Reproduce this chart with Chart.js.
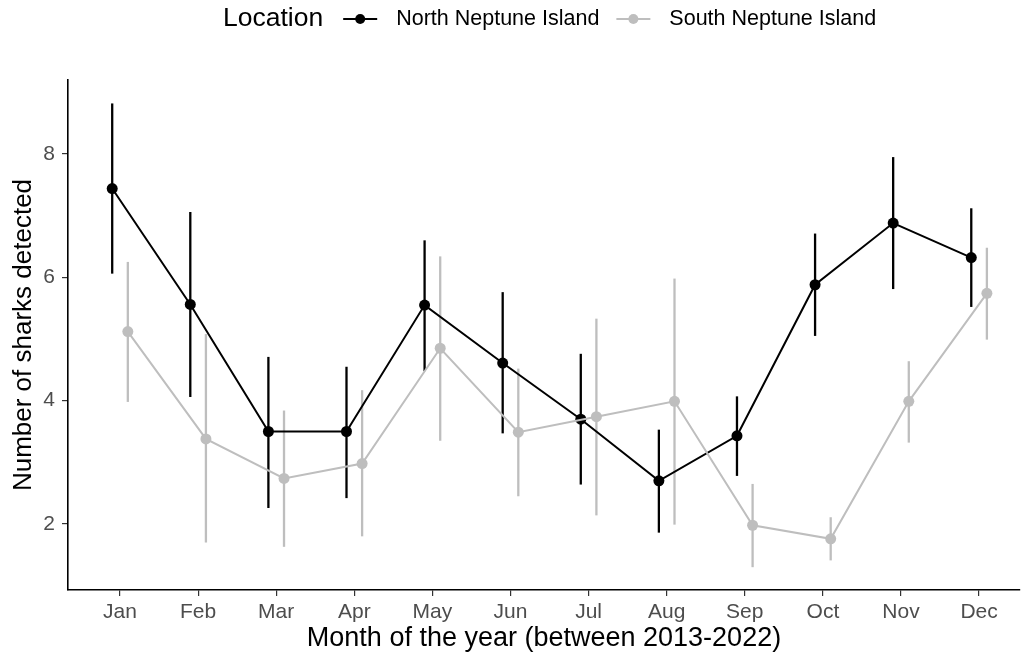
<!DOCTYPE html>
<html>
<head>
<meta charset="utf-8">
<script src="https://cdn.jsdelivr.net/npm/chart.js@4.4.0/dist/chart.umd.min.js"></script>
<style>
  html, body { margin: 0; padding: 0; background: #fff; }
  #wrap { width: 1021px; height: 657px; position: relative; }
</style>
</head>
<body>
<div id="wrap"><canvas id="grafico"></canvas></div>
<script>
// dados
var meses = ["Jan", "Feb", "Mar", "Apr", "May", "Jun", "Jul", "Aug", "Sep", "Oct", "Nov", "Dec"];
var yTicks = [2, 4, 6, 8];

var norteMedia = [7.44, 5.56, 3.50, 3.50, 5.55, 4.61, 3.70, 2.70, 3.43, 5.88, 6.88, 6.32];
var norteMin   = [6.06, 4.06, 2.26, 2.42, 4.48, 3.47, 2.64, 1.86, 2.78, 5.05, 5.81, 5.52];
var norteMax   = [8.82, 7.06, 4.71, 4.55, 6.60, 5.76, 4.76, 3.53, 4.07, 6.71, 7.95, 7.12];

var sulMedia = [5.12, 3.38, 2.74, 2.98, 4.85, 3.49, 3.74, 3.99, 1.98, 1.76, 3.99, 5.74];
var sulMin   = [3.98, 1.70, 1.63, 1.80, 3.35, 2.45, 2.14, 1.99, 1.30, 1.41, 3.32, 4.99];
var sulMax   = [6.25, 5.08, 3.84, 4.17, 6.34, 4.52, 5.33, 5.98, 2.65, 2.11, 4.64, 6.48];

var corNorte = "#000000";
var corSul = "#bebebe";
var dodge = 0.1;
var fonte = "'Liberation Sans', Arial, sans-serif";

function montarPontos(valores, desloc) {
    var pts = [];
    for (var i = 0; i < valores.length; i++) {
        pts.push({ x: i + 1 + desloc, y: valores[i] });
    }
    return pts;
}

// barras de erro desenhadas com as escalas do chart
var pluginErro = {
    id: 'barrasErro',
    beforeDatasetsDraw: function (chart) {
        var ctx = chart.ctx;
        var sx = chart.scales.x;
        var sy = chart.scales.y;
        var series = [
            { lo: sulMin, hi: sulMax, desloc: dodge, cor: corSul },
            { lo: norteMin, hi: norteMax, desloc: -dodge, cor: corNorte }
        ];
        ctx.save();
        ctx.lineWidth = 2.3;
        series.forEach(function (s) {
            ctx.strokeStyle = s.cor;
            for (var i = 0; i < s.lo.length; i++) {
                var px = sx.getPixelForValue(i + 1 + s.desloc);
                ctx.beginPath();
                ctx.moveTo(px, sy.getPixelForValue(s.lo[i]));
                ctx.lineTo(px, sy.getPixelForValue(s.hi[i]));
                ctx.stroke();
            }
        });
        ctx.restore();
    }
};

// legenda estilo ggplot no topo
var pluginLegenda = {
    id: 'legendaTopo',
    afterDraw: function (chart) {
        var ctx = chart.ctx;
        ctx.save();
        ctx.textBaseline = 'middle';
        var y = 19;
        var x = 223;
        ctx.fillStyle = "#000";
        ctx.font = "26.5px " + fonte;
        ctx.fillText("Location", x, y);
        x += ctx.measureText("Location").width + 20;

        var itens = [
            { txt: "North Neptune Island", cor: corNorte },
            { txt: "South Neptune Island", cor: corSul }
        ];
        itens.forEach(function (it) {
            ctx.strokeStyle = it.cor;
            ctx.fillStyle = it.cor;
            ctx.lineWidth = 2;
            ctx.beginPath();
            ctx.moveTo(x, y);
            ctx.lineTo(x + 34, y);
            ctx.stroke();
            ctx.beginPath();
            ctx.arc(x + 17, y, 5, 0, Math.PI * 2);
            ctx.fill();
            x += 34 + 19;
            ctx.fillStyle = "#000";
            ctx.font = "21.5px " + fonte;
            ctx.fillText(it.txt, x, y);
            x += ctx.measureText(it.txt).width + 17;
        });
        ctx.restore();
    }
};

var grafico = new Chart(document.getElementById('grafico').getContext('2d'), {
    type: 'line',
    data: {
        datasets: [{
            label: 'South Neptune Island',
            data: montarPontos(sulMedia, dodge),
            borderColor: corSul,
            backgroundColor: corSul,
            borderWidth: 2,
            pointRadius: 5.5,
            pointHoverRadius: 5.5,
            pointBorderWidth: 0,
            tension: 0
        }, {
            label: 'North Neptune Island',
            data: montarPontos(norteMedia, -dodge),
            borderColor: corNorte,
            backgroundColor: corNorte,
            borderWidth: 2,
            pointRadius: 5.5,
            pointHoverRadius: 5.5,
            pointBorderWidth: 0,
            tension: 0
        }]
    },
    options: {
        responsive: true,
        maintainAspectRatio: false,
        animation: false,
        layout: { autoPadding: false, padding: { top: 80, right: 1, left: 0, bottom: 0 } },
        plugins: {
            legend: { display: false },
            tooltip: { enabled: false }
        },
        scales: {
            x: {
                type: 'linear',
                min: 0.334,
                max: 12.524,
                afterBuildTicks: function (scale) {
                    scale.ticks = meses.map(function (m, i) { return { value: i + 1 }; });
                },
                afterFit: function (scale) {
                    scale.height = 67;
                    scale.paddingLeft = 0;
                    scale.paddingRight = 0;
                },
                ticks: {
                    color: "#4d4d4d",
                    font: { size: 21, family: fonte },
                    padding: 4,
                    maxRotation: 0,
                    autoSkip: false,
                    callback: function (v) { return meses[Math.round(v) - 1]; }
                },
                grid: { drawOnChartArea: false, drawTicks: true, tickLength: 6, color: "#333", lineWidth: 1.2 },
                border: { display: true, color: "#000", width: 1.6 },
                title: {
                    display: true,
                    text: "Month of the year (between 2013-2022)",
                    color: "#000",
                    font: { size: 27, family: fonte },
                    padding: { top: 0, bottom: 2 }
                }
            },
            y: {
                type: 'linear',
                min: 0.93,
                max: 9.2,
                afterBuildTicks: function (scale) {
                    scale.ticks = yTicks.map(function (v) { return { value: v }; });
                },
                afterFit: function (scale) { scale.width = 68; },
                ticks: {
                    color: "#4d4d4d",
                    font: { size: 21, family: fonte },
                    padding: 7
                },
                grid: { drawOnChartArea: false, drawTicks: true, tickLength: 6, color: "#333", lineWidth: 1.2 },
                border: { display: true, color: "#000", width: 1.6 },
                title: {
                    display: true,
                    text: "Number of sharks detected",
                    color: "#000",
                    font: { size: 26, family: fonte },
                    padding: { top: 8, bottom: 0 }
                }
            }
        }
    },
    plugins: [pluginErro, pluginLegenda]
});
</script>
</body>
</html>
